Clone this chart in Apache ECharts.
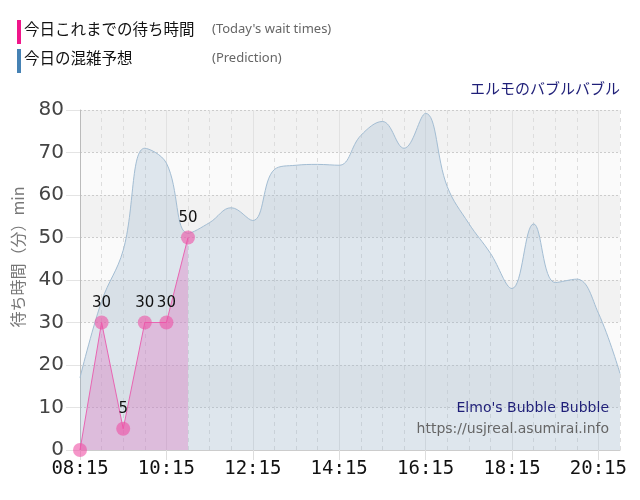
<!DOCTYPE html>
<html>
<head>
<meta charset="utf-8">
<script src="https://cdn.jsdelivr.net/npm/echarts@6/dist/echarts.min.js"></script>
<style>
  html, body { margin: 0; padding: 0; background: #fff; }
  #chart { width: 640px; height: 500px; }
</style>
</head>
<body>
<div id="chart"></div>
<script>
// 30分刻みの時刻
var times = ['08:15', '08:45', '09:15', '09:45', '10:15', '10:45', '11:15', '11:45',
  '12:15', '12:45', '13:15', '13:45', '14:15', '14:45', '15:15', '15:45',
  '16:15', '16:45', '17:15', '17:45', '18:15', '18:45', '19:15', '19:45',
  '20:15', '20:45']
// 今日これまでの待ち時間
var actual = [0, 30, 5, 30, 30, 50]
// 今日の混雑予想
var prediction = [17, 35, 47, 71, 67.5, 51, 53.5, 57, 54, 66, 67, 67.2, 67,
  74, 77.3, 71, 79.2, 62, 53.3, 46.3, 38, 53.2, 39.4, 40.2, 32.2, 18]
var yTicks = [0, 10, 20, 30, 40, 50, 60, 70, 80]

window.onload = function () {
  var chart = echarts.init(document.getElementById('chart'))
  var option = {
    animation: false,
    backgroundColor: '#fff',
    grid: { left: 80, right: 20, top: 110, bottom: 50 },
    graphic: [
      { type: 'rect', left: 17, top: 20, shape: { width: 4, height: 24 }, style: { fill: '#f0168a' } },
      { type: 'text', left: 24, top: 21, style: { text: '今日これまでの待ち時間', fill: '#111', font: '15.5px "Noto Sans CJK JP"' } },
      { type: 'text', left: 212, top: 23, style: { text: "(Today's wait times)", fill: '#666', font: '13px "Noto Sans"' } },
      { type: 'rect', left: 17, top: 49, shape: { width: 4, height: 24 }, style: { fill: '#4682b4' } },
      { type: 'text', left: 24, top: 50, style: { text: '今日の混雑予想', fill: '#111', font: '15.5px "Noto Sans CJK JP"' } },
      { type: 'text', left: 212, top: 52, style: { text: '(Prediction)', fill: '#666', font: '13px "Noto Sans"' } },
      { type: 'text', right: 20, top: 81, style: { text: 'エルモのバブルバブル', fill: '#1f1f78', font: '15px "Noto Sans CJK JP"' } },
      { type: 'text', right: 31, top: 401, z: 10, style: { text: "Elmo's Bubble Bubble", fill: '#1f1f78', font: '14px "DejaVu Sans"' } },
      { type: 'text', right: 31, top: 422, z: 10, style: { text: 'https://usjreal.asumirai.info', fill: '#666', font: '14px "DejaVu Sans"' } },
      {
        type: 'text', x: 18, y: 257, rotation: Math.PI / 2,
        style: { text: '待ち時間（分）min', fill: '#777', font: '16px "Noto Sans CJK JP"', align: 'center', verticalAlign: 'middle' }
      }
    ],
    xAxis: [
      {
        type: 'category',
        data: times,
        boundaryGap: false,
        axisLine: { lineStyle: { color: '#ccc' } },
        axisTick: { interval: 3, length: 10, lineStyle: { color: '#ddd' } },
        axisLabel: {
          interval: 3, margin: 10, color: '#111',
          fontFamily: 'DejaVu Sans Mono', fontSize: 19
        },
        splitLine: {
          show: true,
          interval: function (i) { return i % 4 !== 0 },
          lineStyle: { color: '#ddd', type: [4, 4] }
        }
      },
      {
        // 2時間ごとの実線
        type: 'category',
        data: times,
        boundaryGap: false,
        position: 'bottom',
        axisLine: { show: false },
        axisTick: { show: false },
        axisLabel: { show: false },
        splitLine: { show: true, interval: 3, lineStyle: { color: '#e2e2e2' } }
      }
    ],
    yAxis: {
      type: 'value',
      min: yTicks[0], max: yTicks[yTicks.length - 1], interval: 10,
      axisLine: { show: true, lineStyle: { color: '#bbb' } },
      axisTick: { show: true, length: 14, lineStyle: { color: '#e4e4e4' } },
      axisLabel: { margin: 16, color: '#444', fontFamily: 'DejaVu Sans', fontSize: 20 },
      splitLine: { lineStyle: { color: '#ccc', type: [2, 2] } },
      splitArea: { show: true, areaStyle: { color: ['#fafafa', '#f2f2f2'] } }
    },
    series: [
      {
        name: '今日の混雑予想',
        type: 'line',
        data: prediction,
        smooth: 0.4,
        showSymbol: false,
        lineStyle: { color: '#a3bdd3', width: 1 },
        areaStyle: { color: 'rgba(150,180,205,0.4)' },
        z: 2
      },
      {
        name: '今日これまでの待ち時間',
        type: 'line',
        data: actual,
        symbol: 'circle',
        symbolSize: 14,
        showAllSymbol: true,
        itemStyle: { color: 'rgba(238,80,165,0.6)' },
        lineStyle: { color: '#e865b2', width: 1 },
        areaStyle: { color: 'rgba(222,110,190,0.5)' },
        label: {
          show: true, position: 'top', distance: 5, color: '#111',
          fontSize: 15, fontFamily: 'DejaVu Sans',
          formatter: function (p) { return p.value > 0 ? p.value : '' }
        },
        labelLayout: { hideOverlap: false },
        z: 3
      }
    ]
  }
  chart.setOption(option)
}
</script>
</body>
</html>
